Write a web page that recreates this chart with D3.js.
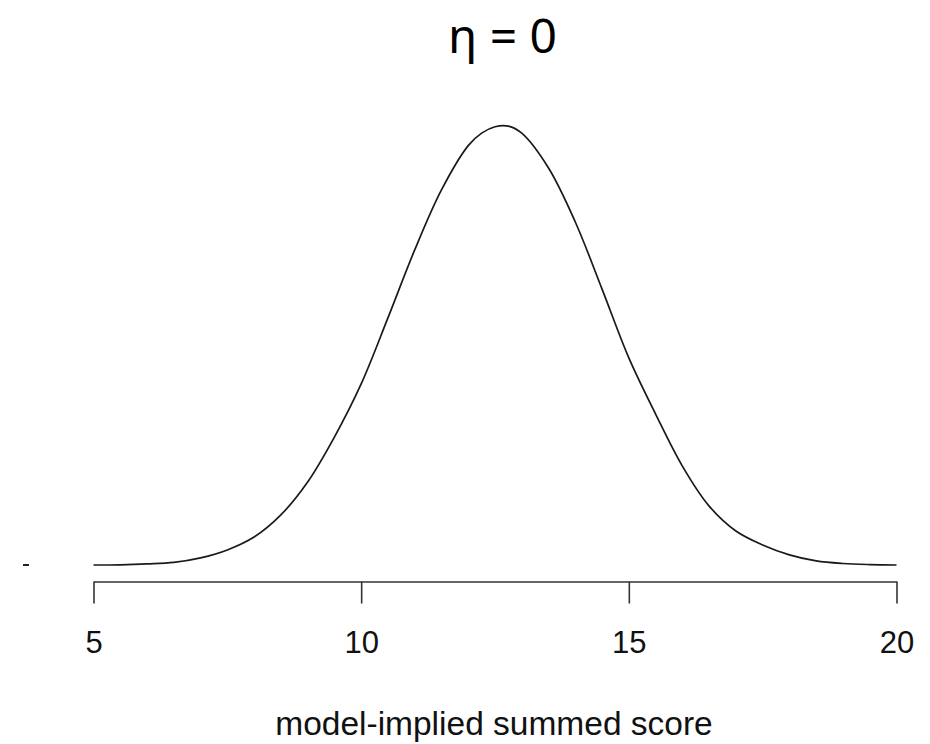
<!DOCTYPE html>
<html>
<head>
<meta charset="utf-8">
<script src="https://cdn.jsdelivr.net/npm/d3@7"></script>
<style>
  html, body { margin: 0; padding: 0; background: #fff; }
  svg { display: block; }
</style>
</head>
<body>
<svg id="chart" width="930" height="744"></svg>
<script>
// Model-implied distribution of the summed score at eta = 0
const scores = [5, 5.5, 6, 6.5, 7, 7.5, 8, 8.5, 9, 9.5, 10, 10.5, 11, 11.5, 12, 12.25,
                12.5, 12.75, 13, 13.5, 14, 14.5, 15, 15.5, 16, 16.5, 17, 17.5, 18, 18.5, 19, 19.5, 20];
const density = [0.0000, 0.0001, 0.0005, 0.0012, 0.0033, 0.0070, 0.0130, 0.0233, 0.0386, 0.0595,
                 0.0842, 0.1149, 0.1465, 0.1744, 0.1950, 0.2008, 0.2038, 0.2041, 0.2008, 0.1846,
                 0.1595, 0.1283, 0.0963, 0.0702, 0.0460, 0.0274, 0.0158, 0.0093, 0.0047, 0.0019,
                 0.0007, 0.0002, 0.0000];
const xTicks = [5, 10, 15, 20];
const titleText = "η = 0";
const xLabel = "model-implied summed score";

const svg = d3.select("#chart");

const x = d3.scaleLinear().domain([5, 20]).range([93.5, 896.5]);
const y = d3.scaleLinear().domain([0, 0.2046]).range([565, 125]);

const points = scores.map((s, i) => ({ s, d: density[i] }));

// density curve
svg.append("path")
  .datum(points)
  .attr("fill", "none")
  .attr("stroke", "#1a1a1a")
  .attr("stroke-width", 1.7)
  .attr("d", d3.line().x(p => x(p.s)).y(p => y(p.d)).curve(d3.curveCatmullRom.alpha(0.5)));

// stray y-axis tick at zero
svg.append("line")
  .attr("x1", 23).attr("x2", 29)
  .attr("y1", y(0)).attr("y2", y(0))
  .attr("stroke", "#222").attr("stroke-width", 2);

// x axis
const axis = svg.append("g")
  .attr("transform", "translate(0,581.5)")
  .call(d3.axisBottom(x).tickValues(xTicks).tickSize(22).tickSizeOuter(0).tickPadding(27)
        .tickFormat(d3.format("d")));
axis.select(".domain").attr("stroke", "#333").attr("stroke-width", 1.6);
axis.selectAll(".tick line").attr("stroke", "#333").attr("stroke-width", 1.6);
axis.selectAll(".tick text")
  .attr("fill", "#111")
  .style("font-family", "'Liberation Sans', Arial, sans-serif")
  .style("font-size", "31px");

// axis title
svg.append("text")
  .attr("x", 494).attr("y", 735)
  .attr("text-anchor", "middle")
  .attr("fill", "#111")
  .style("font-family", "'Liberation Sans', Arial, sans-serif")
  .style("font-size", "33.5px")
  .text(xLabel);

// chart title
svg.append("text")
  .attr("x", 502.5).attr("y", 53)
  .attr("text-anchor", "middle")
  .attr("fill", "#000")
  .style("font-family", "'Noto Sans', 'Open Sans', sans-serif")
  .style("font-size", "48px")
  .text(titleText);
</script>
</body>
</html>
